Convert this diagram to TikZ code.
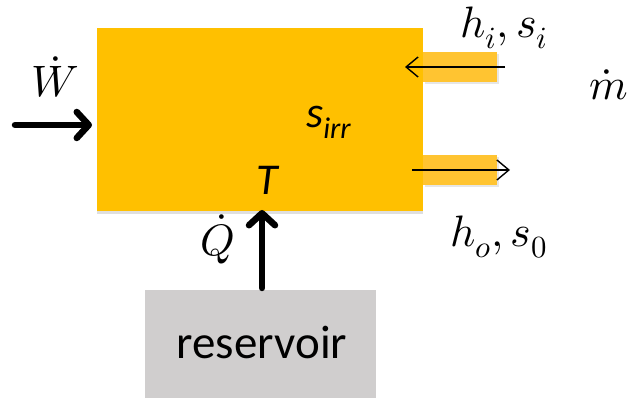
\documentclass[tikz,border=0pt]{standalone}
\usepackage{fontspec}
\usepackage{unicode-math}
\setmathfont{Latin Modern Math}
\newfontfamily\calib{Carlito}
\usetikzlibrary{arrows.meta,shadows}
\definecolor{boxor}{HTML}{FFC000}
\definecolor{pipeor}{HTML}{FFC431}
\definecolor{resgray}{HTML}{D0CECE}
\tikzset{
  mainbox/.style={fill=boxor, draw=none, inner sep=0pt, minimum width=326pt, minimum height=183pt,
    drop shadow={shadow xshift=0pt, shadow yshift=-3pt, opacity=0.25, fill=gray}},
  pipebox/.style={fill=pipeor, draw=none, inner sep=0pt, minimum width=74pt, minimum height=30pt,
    drop shadow={shadow xshift=2pt, shadow yshift=-2pt, opacity=0.2, fill=gray}},
  resbox/.style={fill=resgray, draw=none, inner sep=0pt, minimum width=231pt, minimum height=108pt},
  bigarrow/.style={line width=6.5pt, line cap=round, -{Straight Barb[length=12pt,width=26pt,line width=6.5pt,round]}},
  thinarrow/.style={line width=1.4pt, -{Straight Barb[length=12pt,width=20pt,line width=1.4pt]}},
  mathlbl/.style={font=\fontsize{44}{50}\selectfont, inner sep=0pt, anchor=base west},
  sanslbl/.style={font=\calib\fontsize{44}{50}\selectfont\itshape, inner sep=0pt, anchor=base west}
}
\begin{document}
\begin{tikzpicture}[x=1pt,y=-1pt]
\useasboundingbox (0,0) rectangle (633,403);
\node[mainbox] (main) at (260,119.5) {};
\node[pipebox] (pin) at (460,67) {};
\node[pipebox] (pout) at (460,170) {};
\node[resbox] (res) at (260.5,344) {};
\node[font=\calib\fontsize{47}{52}\selectfont, inner sep=0pt] (restext) at (262,343) {reservoir};

% W arrow
\coordinate (wstart) at (15,125);
\coordinate (wend) at (92,125);
\draw[bigarrow] (wstart) -- (wend);
\node[mathlbl] (wlbl) at (31,97) {$\dot{W}$};

% Q arrow
\coordinate (qstart) at (262,288);
\coordinate (qend) at (262,210);
\draw[bigarrow] (qstart) -- (qend);
\node[mathlbl] (qlbl) at (200,256) {$\dot{Q}$};

% pipe arrows
\coordinate (inS) at (505,67);
\coordinate (inE) at (405,67);
\draw[thinarrow] (inS) -- (inE);
\coordinate (outS) at (412,170);
\coordinate (outE) at (510,170);
\draw[thinarrow] (outS) -- (outE);

% labels
\node[sanslbl] (tlbl) at (256,195) {T};
\node[sanslbl] (slbl) at (306,128) {s\raisebox{-0.25em}{\fontsize{30}{34}\selectfont irr}};
\node[mathlbl] (hin) at (460,38) {$h_i,s_i$};
\node[mathlbl] (mdot) at (589,100) {$\dot{m}$};
\node[mathlbl] (hout) at (450,247) {$h_o,s_0$};
\end{tikzpicture}
\end{document}
